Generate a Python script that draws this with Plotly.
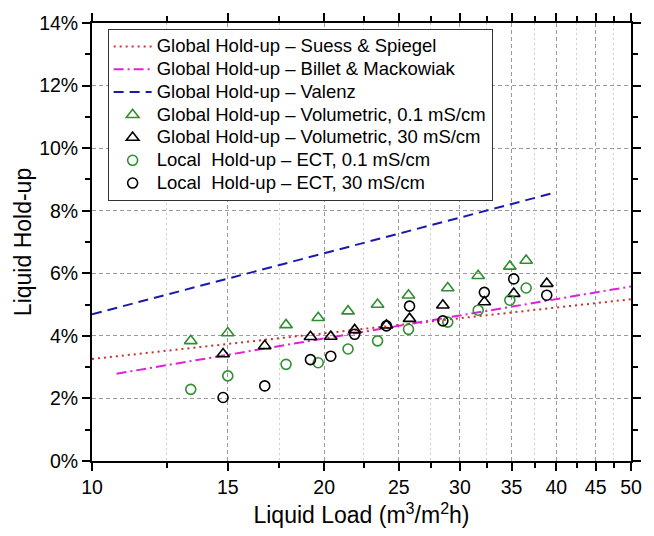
import plotly.graph_objects as go

# ---- data (liquid load in m3/m2h, hold-up in %) ----
suess_x = [10, 50]
suess_y = [3.26, 5.17]
billet_x = [10.76, 50]
billet_y = [2.79, 5.58]
valenz_x = [10, 40]
valenz_y = [4.69, 8.59]

vol01_x = [13.43, 15.0, 17.85, 19.65, 21.48, 23.46, 25.73, 28.93, 31.68, 34.82, 36.56]
vol01_y = [3.84, 4.09, 4.35, 4.58, 4.79, 5.00, 5.30, 5.53, 5.92, 6.22, 6.41]
vol30_x = [14.79, 16.75, 19.20, 20.40, 21.91, 24.09, 25.81, 28.51, 32.27, 35.23, 38.88]
vol30_y = [3.42, 3.68, 3.97, 3.98, 4.19, 4.34, 4.55, 4.98, 5.08, 5.35, 5.67]
ect01_x = [13.43, 15.0, 17.85, 19.65, 21.48, 23.46, 25.73, 28.93, 31.68, 34.82, 36.56]
ect01_y = [2.29, 2.72, 3.09, 3.14, 3.58, 3.84, 4.21, 4.44, 4.82, 5.14, 5.53]
ect30_x = [14.79, 16.75, 19.20, 20.40, 21.91, 24.09, 25.81, 28.51, 32.27, 35.23, 38.88]
ect30_y = [2.03, 2.40, 3.24, 3.35, 4.05, 4.32, 4.95, 4.48, 5.39, 5.82, 5.30]

x_ticks = [10, 15, 20, 25, 30, 35, 40, 45, 50]
x_minor = [12.5, 17.5, 22.5, 27.5, 32.5, 37.5, 42.5, 47.5]
y_ticks = [0, 2, 4, 6, 8, 10, 12, 14]
y_ticktext = [f"{v}%" for v in y_ticks]

names = [
    "Global Hold-up \u2013 Suess & Spiegel",
    "Global Hold-up \u2013 Billet & Mackowiak",
    "Global Hold-up \u2013 Valenz",
    "Global Hold-up \u2013 Volumetric, 0.1 mS/cm",
    "Global Hold-up \u2013 Volumetric, 30 mS/cm",
    "Local\u00a0 Hold-up \u2013 ECT, 0.1 mS/cm",
    "Local\u00a0 Hold-up \u2013 ECT, 30 mS/cm",
]


def big(label):
    return f'<span style="font-size:18.5px">{label}</span>'


GREEN = "#2f8f2f"
FONT = "Liberation Sans, Arial, sans-serif"

fig = go.Figure()
fig.add_trace(go.Scatter(x=suess_x, y=suess_y, mode="lines", name=big(names[0]),
                         line=dict(color="#d0302c", width=2, dash="2px,4px")))
fig.add_trace(go.Scatter(x=billet_x, y=billet_y, mode="lines", name=big(names[1]),
                         line=dict(color="#e020d8", width=2, dash="10px,4px,2px,4px")))
fig.add_trace(go.Scatter(x=valenz_x, y=valenz_y, mode="lines", name=big(names[2]),
                         line=dict(color="#1a1aaa", width=2, dash="10px,6px")))
fig.add_trace(go.Scatter(x=vol01_x, y=vol01_y, mode="markers", name=big(names[3]),
                         marker=dict(symbol="triangle-up-open", size=11, color=GREEN,
                                     line=dict(width=1.6, color=GREEN))))
fig.add_trace(go.Scatter(x=vol30_x, y=vol30_y, mode="markers", name=big(names[4]),
                         marker=dict(symbol="triangle-up-open", size=11, color="black",
                                     line=dict(width=1.6, color="black"))))
fig.add_trace(go.Scatter(x=ect01_x, y=ect01_y, mode="markers", name=big(names[5]),
                         marker=dict(symbol="circle-open", size=10, color=GREEN,
                                     line=dict(width=1.6, color=GREEN))))
fig.add_trace(go.Scatter(x=ect30_x, y=ect30_y, mode="markers", name=big(names[6]),
                         marker=dict(symbol="circle-open", size=10, color="black",
                                     line=dict(width=1.6, color="black"))))

fig.update_layout(
    width=654, height=536,
    margin=dict(l=92, r=12, t=21, b=73),
    paper_bgcolor="white", plot_bgcolor="white",
    font=dict(family=FONT, color="black"),
    legend=dict(x=0.029, y=0.986, xanchor="left", yanchor="top",
                bgcolor="white", bordercolor="#333333", borderwidth=1,
                itemwidth=38,
                font=dict(size=15.2, family=FONT)),
)

fig.update_xaxes(
    type="log", range=[1, 1.69897],
    tickmode="array", tickvals=x_ticks, ticktext=[str(v) for v in x_ticks],
    ticks="outside", ticklen=8, tickwidth=1.5, tickcolor="black",
    showline=True, linecolor="black", linewidth=1.8, mirror="ticks",
    showgrid=True, gridcolor="#9a9a9a", griddash="4px,3px", gridwidth=1,
    tickfont=dict(size=19.5, family=FONT),
    title=dict(text="Liquid Load (m<sup>3</sup>/m<sup>2</sup>h)", font=dict(size=23, family=FONT), standoff=10),
    minor=dict(tickmode="array", tickvals=x_minor, ticks="outside", ticklen=5, tickwidth=1.5,
               tickcolor="black", showgrid=True, gridcolor="#cfcfcf", griddash="2px,3px", gridwidth=1),
    zeroline=False,
)
fig.update_yaxes(
    range=[0, 14], tickmode="array", tickvals=y_ticks, ticktext=y_ticktext,
    ticks="outside", ticklen=8, tickwidth=1.5, tickcolor="black",
    showline=True, linecolor="black", linewidth=1.8, mirror="ticks",
    showgrid=True, gridcolor="#9a9a9a", griddash="4px,3px", gridwidth=1,
    tickfont=dict(size=19.5, family=FONT),
    title=dict(text="Liquid Hold-up", font=dict(size=23, family=FONT), standoff=1),
    minor=dict(dtick=1, ticks="outside", ticklen=5, tickwidth=1.5, tickcolor="black", showgrid=False),
    zeroline=False,
)

fig.write_html("out.html")
